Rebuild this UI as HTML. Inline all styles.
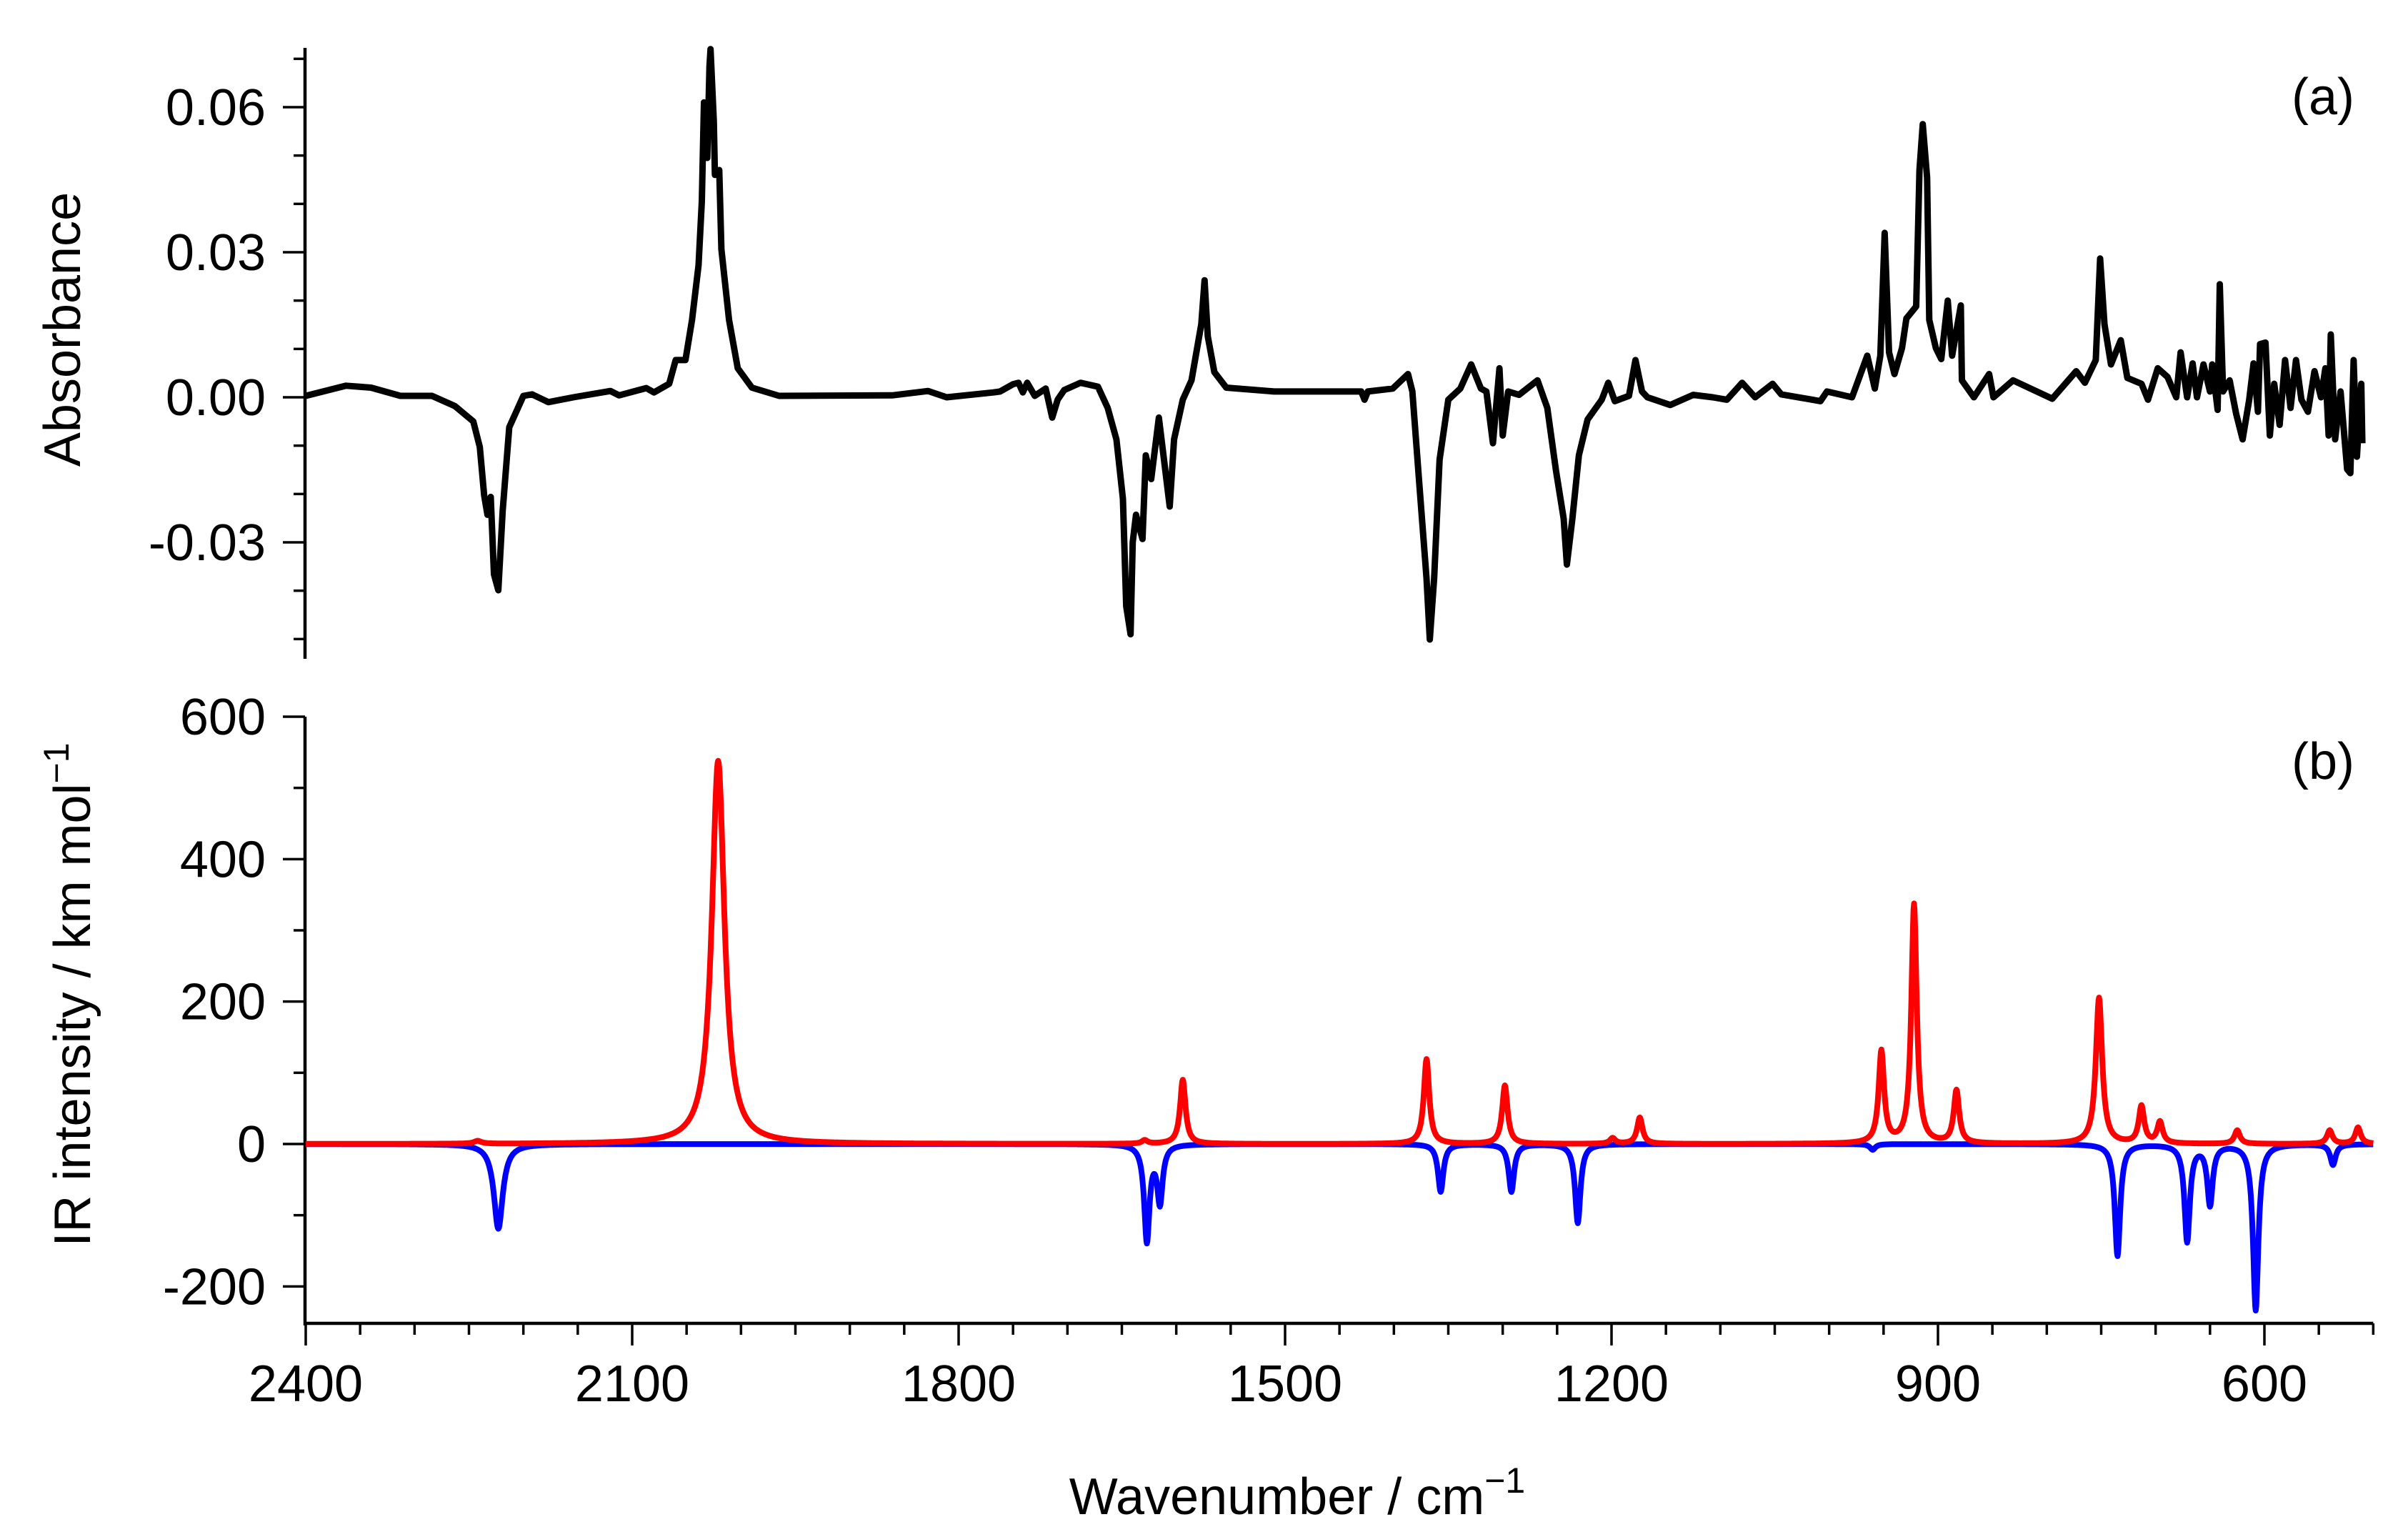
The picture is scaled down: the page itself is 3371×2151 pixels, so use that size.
<!DOCTYPE html>
<html><head><meta charset="utf-8"><title>IR spectra</title>
<style>
html,body{margin:0;padding:0;background:#fff;}
svg{display:block;}
text{font-family:"Liberation Sans",Arial,sans-serif;fill:#000;}
</style></head>
<body>
<svg id="chart" width="3371" height="2151" viewBox="0 0 3371 2151" xmlns="http://www.w3.org/2000/svg">
<g id="axes"></g>
<g id="series"></g>
<text x="3252" y="160" font-size="72" text-anchor="middle">(a)</text>
<text x="3252" y="1090" font-size="72" text-anchor="middle">(b)</text>
<text transform="translate(112,461) rotate(-90)" font-size="72" text-anchor="middle">Absorbance</text>
<text transform="translate(126,1392) rotate(-90)" font-size="72" text-anchor="middle">IR intensity / km mol<tspan dy="-30" font-size="50">−1</tspan></text>
<text x="1816" y="2119" font-size="72" text-anchor="middle">Wavenumber / cm<tspan dy="-30" font-size="50">−1</tspan></text>
</svg>
<script>
// ---- data ----
const xTickLabels = [2400, 2100, 1800, 1500, 1200, 900, 600];
const topTickLabels = [0.06, 0.03, 0.00, -0.03];
const bottomTickLabels = [600, 400, 200, 0, -200];
const expWavenumber = [2400,2363,2340,2313,2284,2263,2246,2240,2236,2233,2230,2227,2223,2219,2213,2200,2192,2177,2154,2120,2112,2087,2080,2066,2060,2051,2045,2039,2036,2034,2031,2029,2028,2025,2024,2020,2018,2011,2003,1990,1965,1861,1828,1811,1768,1762,1750,1745,1741,1737,1730,1720,1714,1709,1703,1688,1672,1663,1655,1649,1646,1642,1640,1637,1631,1628,1623,1616,1606,1602,1594,1586,1577,1574,1571,1565,1554,1510,1430,1427,1424,1401,1387,1383,1377,1370,1367,1363,1358,1350,1339,1329,1320,1315,1309,1303,1300,1295,1285,1268,1259,1251,1244,1241,1236,1230,1222,1209,1203,1197,1184,1178,1172,1167,1146,1125,1107,1094,1080,1068,1052,1044,1008,1002,979,965,958,953,949,945,940,933,929,920,917,914,910,908,902,897,891,887,879,878,867,853,849,831,795,773,765,755,751,747,741,732,726,713,707,698,689,681,677,671,666,662,656,650,648,643,641,638,632,626,620,614,610,606,604,599,595,591,586,581,576,571,566,560,554,548,544,541,539,535,530,524,521,518,515,511,510];
const expAbsorbance = [.0003,.0024,.002,.0003,.0003,-.0018,-.005,-.0103,-.0203,-.0243,-.0206,-.0366,-.0399,-.0235,-.0062,.0003,.0006,-.001,0,.0013,.0004,.0019,.001,.0028,.0077,.0077,.016,.0273,.0405,.061,.0495,.0684,.072,.057,.046,.047,.0306,.016,.006,.002,.0003,.0004,.0013,0,.001,.0012,.0027,.003,.001,.003,.0003,.0018,-.0042,-.0005,.0015,.003,.0022,-.0022,-.0087,-.021,-.0432,-.049,-.030,-.0243,-.0293,-.012,-.0169,-.0042,-.0226,-.0087,-.0005,.0035,.0151,.0242,.0126,.0052,.002,.0012,.0012,-.0005,.0012,.0018,.0048,.0012,-.0169,-.0374,-.0501,-.0374,-.0129,-.0005,.0018,.0068,.0018,.0012,-.0095,.006,-.0079,.0012,.0005,.0035,-.0022,-.0152,-.0251,-.0346,-.0251,-.012,-.0046,-.0005,.003,-.0008,.0003,.0077,.0012,0,-.0016,.0005,0,-.0005,.003,0,.0028,.0006,-.0008,.0012,0,.0086,.0018,.0086,.034,.0093,.0048,.0102,.0163,.0188,.047,.0565,.0454,.016,.0102,.0079,.02,.0086,.019,.0035,0,.0048,0,.0035,-.0003,.0054,.003,.0077,.0287,.0151,.0068,.0118,.004,.0028,-.0005,.006,.0042,0,.0093,0,.007,0,.0068,.0012,.0068,-.0026,.0234,.0012,.0035,-.0034,-.0087,-.0005,.007,-.003,.011,.0113,-.0079,.0028,-.0057,.0077,-.0022,.0077,-.0005,-.003,.0054,0,.006,-.0079,.013,-.0087,.0012,-.0149,-.0157,.0077,-.0123,.0028,-.0095];
const redPos = [2242,2021,1629,1594,1370,1298,1199,1174,952,922,883,752,713,696,625,540,514];
const redInt = [4,538,5,90,119,82,8,37,129,336,74,205,52,30,19,19,23];
const redWidth = [4,7,3,3,3,3,3,3,3,3,3,3.5,3,3,3,3,3];
const bluePos = [2223,1627,1615,1357,1292,1231,960,735,671,650,608,537];
const blueInt = [-119,-135,-80,-67,-67,-111,-8,-157,-136,-84,-233,-29];
const blueWidth = [5,3,3,3,3,3,3,3,3,3,3,3];

// ---- scales ----
const X0=428, XPX=457/300, WN0=2400, WN1=500;
const xs = w => X0 + (WN0 - w)*XPX;
const topY = v => 556 - v*(203/0.03);
const botY = v => 1601 - v*0.9967;
const NS='http://www.w3.org/2000/svg';
const axes=document.getElementById('axes'), series=document.getElementById('series');
function mk(tag, attrs, parent){const e=document.createElementNS(NS,tag);for(const k in attrs)e.setAttribute(k,attrs[k]);parent.appendChild(e);return e;}

// top panel axis
let a1 = mk('line',{x1:427,y1:67,x2:427,y2:922,stroke:'#000','stroke-width':4.5},axes);


for(let i=-5;i<=7;i++){const v=i/100;const y=topY(v);const major=(i%3===0);
 const t=mk('line',{x1:major?396:411,y1:y,x2:427,y2:y,stroke:'#000','stroke-width':3.5},axes);
 
 }
topTickLabels.forEach(v=>{const t=mk('text',{x:372,y:topY(v)+25,'font-size':72,'text-anchor':'end'},axes);t.textContent=v.toFixed(2);
 
 });

// bottom panel axes
let a2 = mk('line',{x1:427,y1:1003,x2:427,y2:1855,stroke:'#000','stroke-width':4.5},axes);


let a3 = mk('line',{x1:425,y1:1852,x2:xs(WN1),y2:1852,stroke:'#000','stroke-width':4.5},axes);


for(let v=-200;v<=600;v+=100){const y=botY(v);const major=(v%200===0);
 const t=mk('line',{x1:major?396:411,y1:y,x2:427,y2:y,stroke:'#000','stroke-width':3.5},axes);
 
 }
bottomTickLabels.forEach(v=>{const t=mk('text',{x:372,y:botY(v)+25,'font-size':72,'text-anchor':'end'},axes);t.textContent=String(v);
 
 });
for(let w=2400;w>=500;w-=50){const x=xs(w);const major=(w%300===0);
 const t=mk('line',{x1:x,y1:1852,x2:x,y2:major?1883:1868,stroke:'#000','stroke-width':3.5},axes);
 
 }
xTickLabels.forEach(w=>{const t=mk('text',{x:xs(w),y:1961,'font-size':72,'text-anchor':'middle'},axes);t.textContent=String(w);
 
 });

// experimental spectrum
let d='';expWavenumber.forEach((w,i)=>{d+=(i?'L':'M')+xs(w).toFixed(1)+' '+topY(expAbsorbance[i]).toFixed(1);});
const pe=mk('path',{d:d,fill:'none',stroke:'#000','stroke-width':9,'stroke-linejoin':'round'},series);



// calculated spectra (Lorentzian sums)
function spec(pos,inten,wid){let s='';for(let w=2400;w>=500;w-=0.5){let v=0;for(let k=0;k<pos.length;k++){const g=wid[k];const dx=w-pos[k];v+=inten[k]*g*g/(dx*dx+g*g);}
 s+=(w===2400?'M':'L')+xs(w).toFixed(1)+' '+botY(v).toFixed(1);}return s;}
const pb=mk('path',{d:spec(bluePos,blueInt,blueWidth),fill:'none',stroke:'#0000ff','stroke-width':8,'stroke-linejoin':'round'},series);


const pr=mk('path',{d:spec(redPos,redInt,redWidth),fill:'none',stroke:'#ff0000','stroke-width':8,'stroke-linejoin':'round'},series);


</script>
</body></html>
